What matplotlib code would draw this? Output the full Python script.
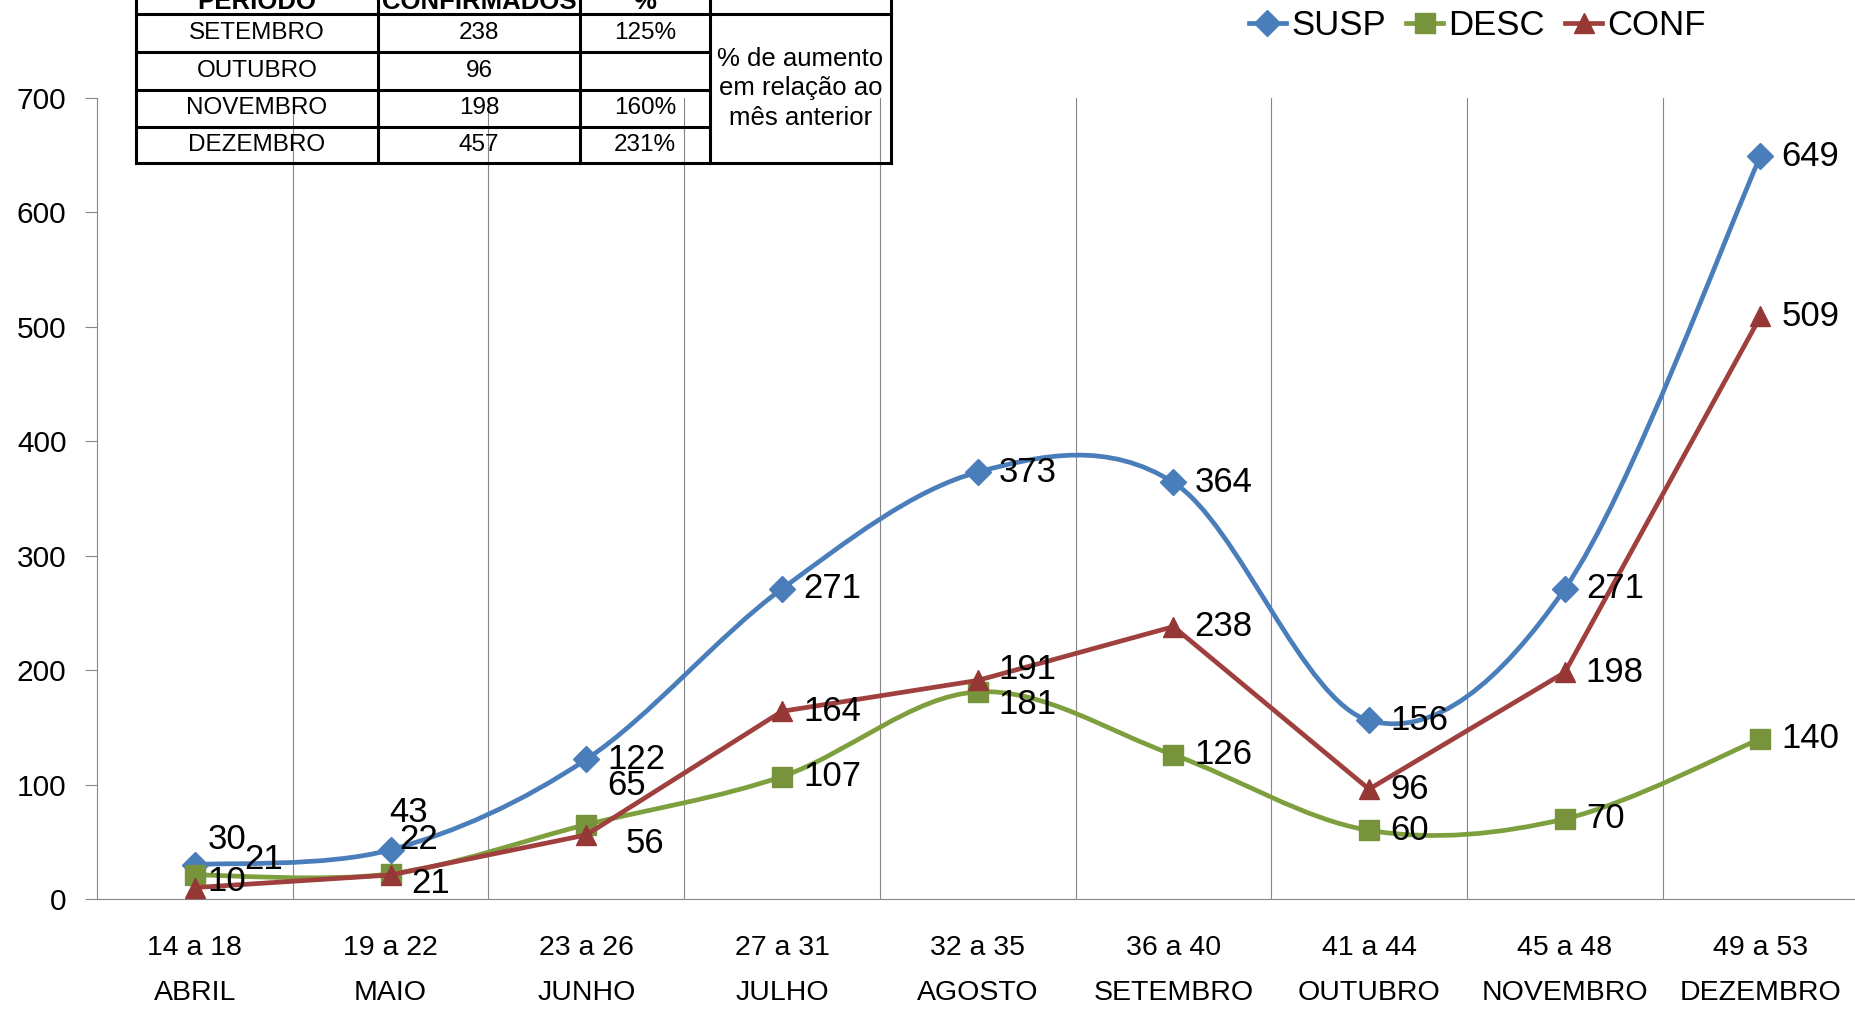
import numpy as np
import matplotlib
matplotlib.use("Agg")
from matplotlib import pyplot as plt
from matplotlib.path import Path
from matplotlib.patches import PathPatch

FONT = ["Liberation Sans", "DejaVu Sans"]
plt.rcParams["font.family"] = FONT

# dados do grafico
semanas = ["14 a 18", "19 a 22", "23 a 26", "27 a 31", "32 a 35",
           "36 a 40", "41 a 44", "45 a 48", "49 a 53"]
meses = ["ABRIL", "MAIO", "JUNHO", "JULHO", "AGOSTO",
         "SETEMBRO", "OUTUBRO", "NOVEMBRO", "DEZEMBRO"]
susp = [30, 43, 122, 271, 373, 364, 156, 271, 649]
desc = [21, 22, 65, 107, 181, 126, 60, 70, 140]
conf = [10, 21, 56, 164, 191, 238, 96, 198, 509]
yticks = [0, 100, 200, 300, 400, 500, 600, 700]

# tabela do canto
tab_header = ["PERÍODO", "CONFIRMADOS", "%"]
tab_periodo = ["SETEMBRO", "OUTUBRO", "NOVEMBRO", "DEZEMBRO"]
tab_conf = ["238", "96", "198", "457"]
tab_pct = ["125%", "", "160%", "231%"]
tab_nota = "% de aumento\nem relação ao\nmês anterior"

AZUL = "#4A7EBB"
VERDE = "#7E9F3D"
VERDE_M = "#77933C"
VERM = "#A0403E"
VERM_M = "#953735"
GRID = "#868686"

# deslocamento dos rotulos (pixels) por serie, padrao (21, 0)
off_susp = {0: (13, 25), 1: (-1, 37)}
off_desc = {0: (49, 15), 1: (9, 34), 2: (21, 39), 4: (21, -13)}
off_conf = {0: (13, 6), 1: (21, -9), 2: (39, -9), 4: (21, 11)}


def smooth_path(xs, ys):
    pts = np.column_stack([xs, ys]).astype(float)
    ext = np.vstack([pts[0], pts, pts[-1]])
    verts = [pts[0]]
    codes = [Path.MOVETO]
    for i in range(len(pts) - 1):
        p0, p1, p2, p3 = ext[i], ext[i + 1], ext[i + 2], ext[i + 3]
        verts += [p1 + (p2 - p0) / 6, p2 - (p3 - p1) / 6, p2]
        codes += [Path.CURVE4] * 3
    return Path(verts, codes)


def serie(ax, vals, cor, cor_m, marker, ms, label, offs, smooth=True):
    x = np.arange(len(vals))
    if smooth:
        ax.add_patch(PathPatch(smooth_path(x, vals), fill=False, edgecolor=cor,
                               lw=3.4, capstyle="round", joinstyle="round", zorder=3))
        ax.plot(x, vals, ls="none", marker=marker, ms=ms,
                mfc=cor_m, mec=cor_m, zorder=4)
        h_leg = ax.plot([], [], color=cor, lw=3.4, marker=marker, ms=ms,
                        mfc=cor_m, mec=cor_m, label=label)[0]
    else:
        h_leg, = ax.plot(x, vals, color=cor, lw=3.4, marker=marker, ms=ms,
                         mfc=cor_m, mec=cor_m, label=label, zorder=4)
    for i, v in enumerate(vals):
        dx, dy = offs.get(i, (21, 0))
        ax.annotate(str(v), (i, v), xytext=(dx, dy), textcoords="offset pixels",
                    ha="left", va="center", fontsize=25, zorder=6)
    return h_leg


fig = plt.figure(figsize=(18.56, 10.09), dpi=100)
ax = fig.add_axes([97 / 1856, 0.109, 0.949, 0.794])
ax.set_xlim(-0.5, 8.5)
ax.set_ylim(0, 700)

h1 = serie(ax, susp, AZUL, AZUL, "D", 13, "SUSP", off_susp)
h2 = serie(ax, desc, VERDE, VERDE_M, "s", 14, "DESC", off_desc)
h3 = serie(ax, conf, VERM, VERM_M, "^", 15, "CONF", off_conf, smooth=False)

ax.set_yticks(yticks)
ax.set_xticks(range(len(semanas)))
ax.set_xticklabels([f"{s}\n{m}" for s, m in zip(semanas, meses)],
                   fontsize=20.5, linespacing=1.95)
ax.set_xticks(np.arange(0.5, 8.5, 1), minor=True)
ax.grid(which="minor", axis="x", color=GRID, lw=0.8)
ax.tick_params(axis="x", which="both", length=0, pad=26)
ax.tick_params(axis="y", length=9, width=0.8, color=GRID, labelsize=21.5, pad=13)
for s in ["top", "right"]:
    ax.spines[s].set_visible(False)
for s in ["left", "bottom"]:
    ax.spines[s].set_color(GRID)
    ax.spines[s].set_linewidth(0.8)

fig.legend(handles=[h1, h2, h3], loc="center", bbox_to_anchor=(0.796, 0.975),
           ncol=3, frameon=False, fontsize=25, handlelength=1.05,
           handletextpad=0.15, columnspacing=0.6, borderaxespad=0)

# tabela desenhada em pixels
tx = fig.add_axes([0, 0, 1, 1], zorder=10)
tx.set_xlim(0, 1856)
tx.set_ylim(1009, 0)
tx.axis("off")
tx.patch.set_alpha(0)

cols = [136, 378, 580, 710, 891]
rows = [14, 52, 90, 127, 163]
lw_t = 2.2
for c in cols:
    tx.plot([c, c], [-30, rows[-1]], color="black", lw=lw_t, solid_capstyle="projecting")
for k, r in enumerate(rows):
    x1 = cols[-1] if k in (0, len(rows) - 1) else cols[3]
    tx.plot([cols[0], x1], [r, r], color="black", lw=lw_t, solid_capstyle="projecting")

for j, h in enumerate(tab_header):
    tx.text((cols[j] + cols[j + 1]) / 2, 9, h, ha="center", va="baseline",
            fontsize=18.5, fontweight="bold")
for i in range(len(tab_periodo)):
    yc = (rows[i] + rows[i + 1]) / 2
    for j, val in enumerate([tab_periodo[i], tab_conf[i], tab_pct[i]]):
        tx.text((cols[j] + cols[j + 1]) / 2, yc, val, ha="center", va="center",
                fontsize=17.5)
tx.text((cols[3] + cols[4]) / 2, (rows[0] + rows[-1]) / 2, tab_nota,
        ha="center", va="center", fontsize=18.5, linespacing=1.3)

fig.savefig("out.png", dpi=100)
